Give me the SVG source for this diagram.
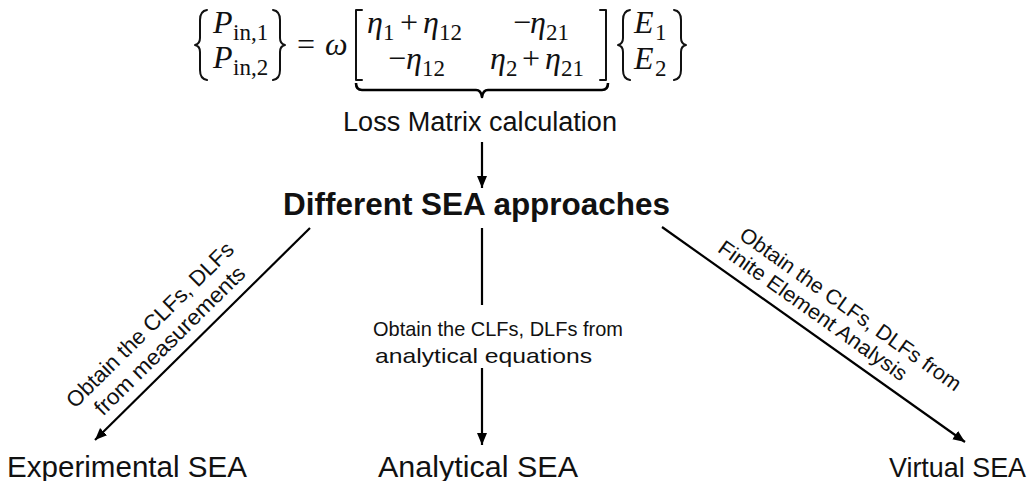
<svg xmlns="http://www.w3.org/2000/svg" width="1035" height="481" viewBox="0 0 1035 481">
<style>
  .m { font-family: "Liberation Serif", "Times New Roman", serif; font-size: 32px; fill: #111; }
  .mi { font-style: italic; }
  .sub { font-family: "Liberation Serif", "Times New Roman", serif; font-size: 23px; fill: #111; }
  .delim { fill: none; stroke: #111; stroke-width: 2; stroke-linecap: round; stroke-linejoin: round; }
  .lbl { font-family: "Liberation Sans", Arial, sans-serif; fill: #111; }
  .edge { fill: none; stroke: #000; stroke-width: 2.2; }
</style>
<defs>
  <marker id="ah" markerUnits="userSpaceOnUse" markerWidth="14" markerHeight="12" refX="12" refY="5" orient="auto">
    <path d="M0,0 L12,5 L0,10 Z" fill="#000"/>
  </marker>
</defs>
<rect width="1035" height="481" fill="#fff"/>

<g id="equation">
  <path class="delim" d="M207,10 Q200,11 200,20 L200,38 Q200,44 195,45 Q200,46 200,52 L200,70 Q200,79 207,80"/>
  <text class="m mi" x="213" y="33">P</text>
  <text class="sub" x="233" y="40">in,1</text>
  <text class="m mi" x="213" y="68">P</text>
  <text class="sub" x="233" y="75">in,2</text>
  <path class="delim" d="M273,10 Q280,11 280,20 L280,38 Q280,44 285,45 Q280,46 280,52 L280,70 Q280,79 273,80"/>

  <text class="m" x="297" y="55">=</text>
  <text class="m mi" x="325" y="55">ω</text>

  <path class="delim" d="M362,10 L356,10 L356,80 L362,80"/>
  <path class="delim" d="M600,10 L606,10 L606,80 L600,80"/>

  <text class="m mi" x="367" y="33">η</text>
  <text class="sub" x="383" y="40">1</text>
  <text class="m" x="400" y="33">+</text>
  <text class="m mi" x="423" y="33">η</text>
  <text class="sub" x="439" y="40">12</text>

  <text class="m" x="513" y="33">−</text>
  <text class="m mi" x="530" y="33">η</text>
  <text class="sub" x="546" y="40">21</text>

  <text class="m" x="388" y="69">−</text>
  <text class="m mi" x="406" y="69">η</text>
  <text class="sub" x="422" y="76">12</text>

  <text class="m mi" x="490" y="69">η</text>
  <text class="sub" x="506" y="76">2</text>
  <text class="m" x="522" y="69">+</text>
  <text class="m mi" x="545" y="69">η</text>
  <text class="sub" x="561" y="76">21</text>

  <path class="delim" d="M630,10 Q623,11 623,20 L623,38 Q623,44 618,45 Q623,46 623,52 L623,70 Q623,79 630,80"/>
  <text class="m mi" x="634" y="33">E</text>
  <text class="sub" x="655" y="40">1</text>
  <text class="m mi" x="634" y="69">E</text>
  <text class="sub" x="655" y="76">2</text>
  <path class="delim" d="M674,10 Q681,11 681,20 L681,38 Q681,44 686,45 Q681,46 681,52 L681,70 Q681,79 674,80"/>

  <path fill="none" stroke="#000" stroke-width="2.6" stroke-linejoin="round" d="M356,83 Q356,90 362,90 L476,90 Q481,90 482,97 Q483,90 488,90 L602,90 Q608,90 608,83"/>
</g>

<g id="loss-matrix">
  <text class="lbl" x="343" y="131" font-size="27" textLength="274" lengthAdjust="spacingAndGlyphs">Loss Matrix calculation</text>
</g>

<g id="different-approaches">
  <text class="lbl" x="283" y="215" font-size="32" font-weight="bold" textLength="387" lengthAdjust="spacingAndGlyphs">Different SEA approaches</text>
</g>

<g id="experimental-sea">
  <text class="lbl" x="7" y="477" font-size="30" textLength="240" lengthAdjust="spacingAndGlyphs">Experimental SEA</text>
</g>
<g id="analytical-sea">
  <text class="lbl" x="378" y="477" font-size="30" textLength="200" lengthAdjust="spacingAndGlyphs">Analytical SEA</text>
</g>
<g id="virtual-sea">
  <text class="lbl" x="889" y="477" font-size="28" textLength="137" lengthAdjust="spacingAndGlyphs">Virtual SEA</text>
</g>

<g id="connectors">
  <line class="edge" x1="482" y1="142" x2="482" y2="188" marker-end="url(#ah)"/>
  <line class="edge" x1="310" y1="228" x2="95" y2="440" marker-end="url(#ah)"/>
  <line class="edge" x1="482" y1="228" x2="482" y2="305"/>
  <line class="edge" x1="482" y1="368" x2="482" y2="445" marker-end="url(#ah)"/>
  <line class="edge" x1="662" y1="227" x2="965" y2="442" marker-end="url(#ah)"/>
</g>

<g id="connector-labels">
  <g transform="translate(202.5,334) rotate(-44.6)">
    <text class="lbl" x="-31" y="-36" font-size="22" text-anchor="middle" textLength="225" lengthAdjust="spacingAndGlyphs">Obtain the CLFs, DLFs</text>
    <text class="lbl" x="-28" y="-11" font-size="22" text-anchor="middle" textLength="202" lengthAdjust="spacingAndGlyphs">from measurements</text>
  </g>
  <text class="lbl" x="373" y="336" font-size="21" textLength="250" lengthAdjust="spacingAndGlyphs">Obtain the CLFs, DLFs from</text>
  <text class="lbl" x="375" y="363" font-size="21" textLength="217" lengthAdjust="spacingAndGlyphs">analytical equations</text>
  <g transform="translate(813.5,334.5) rotate(35.36)">
    <text class="lbl" x="15.6" y="-35" font-size="21" text-anchor="middle" textLength="266" lengthAdjust="spacingAndGlyphs">Obtain the CLFs, DLFs from</text>
    <text class="lbl" x="-14.4" y="-12" font-size="21" text-anchor="middle" textLength="226" lengthAdjust="spacingAndGlyphs">Finite Element Analysis</text>
  </g>
</g>
</svg>
